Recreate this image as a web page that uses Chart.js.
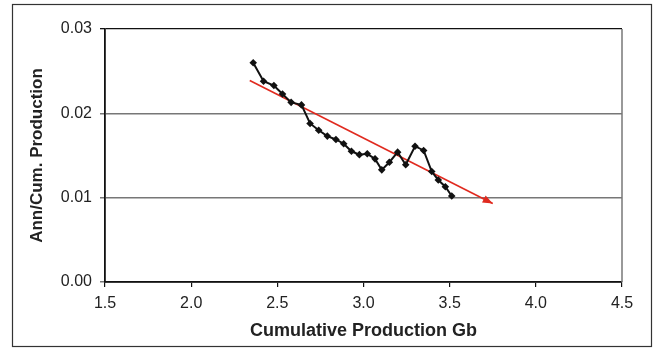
<!DOCTYPE html>
<html lang="en">
<head>
    <meta charset="UTF-8">
    <title>Ann/Cum. Production</title>
    <script src="https://cdn.jsdelivr.net/npm/chart.js"></script>
    <style>
        html, body { margin: 0; padding: 0; background: #fff; }
        .chart-container { width: 654px; height: 355px; position: relative; }
    </style>
</head>
<body>
    <div class="chart-container">
        <canvas id="prodChart"></canvas>
    </div>

    <script>
        // Cumulative production (Gb) vs annual/cumulative ratio
        const cumProd = [2.36, 2.42, 2.48, 2.53, 2.58, 2.64, 2.69, 2.74, 2.79, 2.84, 2.885, 2.93, 2.976,
                         3.022, 3.067, 3.106, 3.15, 3.198, 3.245, 3.299, 3.349, 3.396, 3.434, 3.475, 3.512];
        const annCum = [0.0260, 0.0238, 0.0233, 0.0223, 0.0213, 0.0210, 0.0188, 0.0180, 0.0173, 0.0169, 0.0164,
                        0.0155, 0.0151, 0.0152, 0.0146, 0.0133, 0.0142, 0.0154, 0.0139, 0.0161, 0.0156, 0.0131,
                        0.0121, 0.0113, 0.0102];
        // trend line end points
        const trendX = [2.34, 3.75];
        const trendY = [0.0239, 0.0093];

        const xTicks = [1.5, 2.0, 2.5, 3.0, 3.5, 4.0, 4.5];
        const yTicks = [0.00, 0.01, 0.02, 0.03];

        const font = "'Liberation Sans', Arial, sans-serif";

        const framePlugin = {
            id: 'frame',
            beforeDraw(chart) {
                const ctx = chart.ctx;
                ctx.save();
                ctx.strokeStyle = '#333';
                ctx.lineWidth = 1.2;
                ctx.strokeRect(12.5, 4.5, 639, 342);
                ctx.restore();
            },
            afterDraw(chart) {
                const { ctx, chartArea } = chart;
                ctx.save();
                ctx.strokeStyle = '#777';
                ctx.lineWidth = 1.5;
                ctx.beginPath();
                ctx.moveTo(chartArea.right, chartArea.top);
                ctx.lineTo(chartArea.right, chartArea.bottom);
                ctx.stroke();
                ctx.restore();
            }
        };

        // arrow head at the end of the trend line
        const arrowPlugin = {
            id: 'arrow',
            afterDatasetsDraw(chart) {
                const pts = chart.getDatasetMeta(1).data;
                if (pts.length < 2) return;
                const a = pts[pts.length - 2], b = pts[pts.length - 1];
                const ang = Math.atan2(b.y - a.y, b.x - a.x);
                const len = 10, half = 4;
                const ctx = chart.ctx;
                ctx.save();
                ctx.translate(b.x, b.y);
                ctx.rotate(ang);
                ctx.fillStyle = '#e02a1f';
                ctx.beginPath();
                ctx.moveTo(0, 0);
                ctx.lineTo(-len, -half);
                ctx.lineTo(-len, half);
                ctx.closePath();
                ctx.fill();
                ctx.restore();
            }
        };

        const ctx = document.getElementById('prodChart').getContext('2d');
        new Chart(ctx, {
            type: 'scatter',
            data: {
                datasets: [
                    {
                        data: cumProd.map((x, i) => ({ x: x, y: annCum[i] })),
                        showLine: true,
                        borderColor: '#111',
                        borderWidth: 2,
                        backgroundColor: '#111',
                        pointStyle: 'rectRot',
                        pointRadius: 3.8,
                        pointBorderWidth: 0,
                        tension: 0
                    },
                    {
                        data: trendX.map((x, i) => ({ x: x, y: trendY[i] })),
                        showLine: true,
                        borderColor: '#e02a1f',
                        borderWidth: 1.6,
                        pointRadius: 0,
                        tension: 0
                    }
                ]
            },
            options: {
                responsive: true,
                maintainAspectRatio: false,
                animation: false,
                layout: { padding: { left: 0, top: 29, right: 32, bottom: 0 } },
                plugins: {
                    legend: { display: false },
                    tooltip: { enabled: false }
                },
                scales: {
                    x: {
                        type: 'linear',
                        min: 1.5,
                        max: 4.5,
                        afterBuildTicks: s => { s.ticks = xTicks.map(v => ({ value: v })); },
                        afterFit: s => { s.height = 73; },
                        ticks: {
                            color: '#222',
                            font: { family: font, size: 16 },
                            padding: 7,
                            maxRotation: 0,
                            callback: v => v.toFixed(1)
                        },
                        grid: { drawOnChartArea: false, color: '#111', tickLength: 5, lineWidth: 1.2 },
                        border: { color: '#111', width: 1.8 },
                        title: {
                            display: true,
                            text: 'Cumulative Production Gb',
                            color: '#222',
                            font: { family: font, size: 18, weight: 'bold' },
                            padding: { top: 0, bottom: 13 }
                        }
                    },
                    y: {
                        min: 0,
                        max: 0.03,
                        afterBuildTicks: s => { s.ticks = yTicks.map(v => ({ value: v })); },
                        afterFit: s => { s.width = 105; },
                        ticks: {
                            color: '#222',
                            font: { family: font, size: 16 },
                            padding: 8,
                            callback: v => v.toFixed(2)
                        },
                        grid: {
                            color: c => (c.tick && c.tick.value >= 0.03 ? '#111' : '#777'),
                            lineWidth: c => (c.tick && c.tick.value >= 0.03 ? 1.3 : 1.5),
                            tickLength: 5
                        },
                        border: { color: '#111', width: 1.8 },
                        title: {
                            display: true,
                            text: 'Ann/Cum. Production',
                            color: '#222',
                            font: { family: font, size: 17, weight: 'bold' },
                            padding: { top: 27, bottom: 0 }
                        }
                    }
                }
            },
            plugins: [framePlugin, arrowPlugin]
        });
    </script>
</body>
</html>
